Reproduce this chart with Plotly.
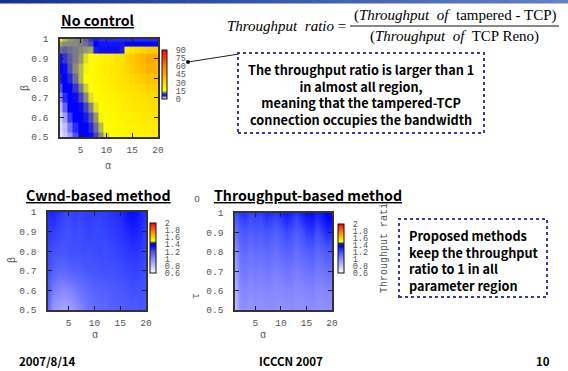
import plotly.graph_objects as go

W, H = 568, 371
def px(x): return x / W
def py(y): return 1 - y / H

# ---------------- data ----------------
alpha = list(range(1, 21))
xticks = [5, 10, 15, 20]
yticks = [0.5, 0.6, 0.7, 0.8, 0.9, 1.0]
ytick_text = ["0.5", "0.6", "0.7", "0.8", "0.9", "1"]

beta_nc = [0.5, 0.55, 0.6, 0.65, 0.7, 0.75, 0.8, 0.85, 0.9, 0.95, 0.975, 1.0]
ratio_nc = [
    [0.5, 1.5, 3, 5, 7, 7, 7.5, 9.5, 12, 14.5, 16, 17, 18, 19, 19, 20, 20, 21, 21, 22],
    [0.8, 2, 4, 6, 7, 7, 8.5, 11, 13.5, 15.5, 17, 18, 19, 20, 21, 21, 22, 23, 23, 24],
    [1.2, 3, 5.5, 7, 7, 8, 10, 12.5, 15, 16.5, 18, 19, 20, 21, 22, 23, 24, 25, 25, 26],
    [2, 4.5, 7, 7, 7.5, 9.5, 12, 14.5, 16.5, 18, 19, 20, 22, 23, 24, 25, 26, 27, 28, 28],
    [3.5, 6, 7, 7.5, 9.5, 12, 14.5, 16.5, 18, 19, 21, 22, 23, 25, 26, 27, 28, 29, 30, 30],
    [5, 7, 7, 9, 11.5, 14, 16, 18, 19, 21, 22, 24, 25, 27, 28, 30, 31, 32, 33, 33],
    [6.5, 7, 8.5, 11, 13.5, 15.5, 17, 19, 20, 22, 24, 26, 27, 29, 31, 33, 35, 36, 37, 36],
    [7, 7.5, 10, 12, 13.5, 15, 17, 19, 21, 23, 25, 27, 29, 31, 34, 37, 39, 41, 42, 40],
    [7.5, 9, 10.5, 11.5, 12.5, 14.5, 16.5, 18, 20, 22, 24, 27, 29, 32, 35, 38, 41, 43, 44, 42],
    [11, 10.5, 11, 11.5, 12, 12.5, 13, 8, 7.5, 7.5, 7.5, 7.5, 8, 24, 27, 30, 32, 34, 35, 33],
    [13, 12, 12, 12, 11.5, 11, 10, 7, 6.5, 6.5, 6.5, 6.5, 6.5, 7, 7, 7, 7, 7, 7, 7],
    [15, 13.5, 12.5, 12, 11.5, 10.5, 9, 6.5, 6, 6, 6, 6, 6, 6, 6, 6, 6, 6, 6, 6],
]

beta_pm = [0.5, 0.6, 0.7, 0.8, 0.9, 1.0]
ratio_cwnd = [
    [1.1, 0.95, 0.92, 0.9, 0.92, 0.95, 1.0, 1.05, 1.08, 1.1, 1.12, 1.12, 1.14, 1.15, 1.15, 1.16, 1.17, 1.16, 1.18, 1.17],
    [1.15, 1.05, 1.02, 1.0, 1.02, 1.05, 1.08, 1.1, 1.12, 1.14, 1.15, 1.15, 1.16, 1.17, 1.18, 1.18, 1.2, 1.2, 1.2, 1.18],
    [1.2, 1.15, 1.12, 1.12, 1.14, 1.15, 1.15, 1.17, 1.18, 1.18, 1.19, 1.2, 1.2, 1.2, 1.21, 1.22, 1.23, 1.23, 1.22, 1.2],
    [1.22, 1.2, 1.19, 1.18, 1.2, 1.2, 1.2, 1.21, 1.2, 1.21, 1.22, 1.21, 1.22, 1.23, 1.24, 1.25, 1.26, 1.26, 1.25, 1.22],
    [1.25, 1.24, 1.22, 1.21, 1.2, 1.22, 1.21, 1.22, 1.23, 1.22, 1.22, 1.23, 1.24, 1.25, 1.26, 1.28, 1.3, 1.3, 1.28, 1.24],
    [1.28, 1.3, 1.26, 1.23, 1.22, 1.24, 1.23, 1.24, 1.25, 1.24, 1.24, 1.25, 1.26, 1.27, 1.28, 1.32, 1.35, 1.34, 1.3, 1.25],
]
ratio_tput = [
    [0.8, 0.97, 0.98, 0.96, 0.98, 0.97, 0.98, 0.99, 0.98, 0.97, 0.98, 0.99, 0.98, 0.97, 0.98, 0.99, 0.98, 0.97, 0.98, 0.98],
    [0.85, 1.0, 1.02, 0.99, 1.01, 1.0, 1.02, 1.01, 1.0, 1.01, 1.02, 1.02, 1.0, 1.01, 1.02, 1.03, 1.0, 1.01, 1.02, 1.01],
    [0.9, 1.05, 1.07, 1.04, 1.06, 1.05, 1.07, 1.06, 1.04, 1.06, 1.08, 1.07, 1.05, 1.06, 1.08, 1.09, 1.06, 1.07, 1.09, 1.08],
    [0.97, 1.1, 1.12, 1.09, 1.11, 1.1, 1.12, 1.11, 1.09, 1.12, 1.14, 1.13, 1.1, 1.12, 1.15, 1.16, 1.12, 1.14, 1.17, 1.16],
    [1.08, 1.16, 1.18, 1.15, 1.17, 1.16, 1.19, 1.17, 1.15, 1.18, 1.22, 1.2, 1.16, 1.19, 1.24, 1.26, 1.2, 1.24, 1.29, 1.28],
    [1.2, 1.25, 1.27, 1.23, 1.25, 1.24, 1.29, 1.27, 1.25, 1.29, 1.32, 1.3, 1.25, 1.3, 1.34, 1.35, 1.3, 1.34, 1.38, 1.4],
]

cb_nc_ticks = [0, 15, 30, 45, 60, 75, 90]
cb_pm_ticks = [0.6, 0.8, 1.0, 1.2, 1.4, 1.6, 1.8, 2.0]
cb_pm_text = ["0.6", "0.8", "1", "1.2", "1.4", "1.6", "1.8", "2"]

# ---------------- styles ----------------
scale_nc = [[0, "#f4f4ff"], [0.03, "#a8a8ff"], [0.078, "#0000ff"], [0.115, "#5a5aa8"],
            [0.145, "#a8a860"], [0.17, "#ffff00"],
            [0.33, "#ffdd00"], [0.5, "#ffa500"], [0.67, "#ff8000"], [0.83, "#ff4000"], [1, "#ff0000"]]
scale_pm = [[0, "#ffffff"], [0.14, "#c4c4ff"], [0.29, "#8888ff"], [0.43, "#4050ff"],
            [0.55, "#0000ff"], [0.6, "#202080"], [0.64, "#ffff00"], [0.8, "#ff9900"], [1, "#ff0000"]]

MONO = "Liberation Mono"
GOTH = "Noto Sans CJK JP"
tick_font = dict(family=MONO, size=9.5, color="#555")
cb_font = dict(family=MONO, size=8.5, color="#555")

def colorbar(x0, y0, x1, y1, tv, tt):
    return dict(x=px(x0), xanchor="left", y=py(y0), yanchor="top",
                len=y1 - y0, lenmode="pixels", thickness=x1 - x0, thicknessmode="pixels",
                xpad=0, ypad=0, outlinewidth=1, outlinecolor="#111",
                tickvals=tv, ticktext=tt, ticks="outside", ticklen=7,
                tickcolor="rgba(0,0,0,0)", tickfont=cb_font)

fig = go.Figure()
fig.add_trace(go.Heatmap(x=alpha, y=beta_nc, z=ratio_nc, zmin=0, zmax=90, colorscale=scale_nc,
                         zsmooth=False, xaxis="x", yaxis="y",
                         colorbar=colorbar(162, 50, 167, 99, cb_nc_ticks, [str(v) for v in cb_nc_ticks])))
fig.add_trace(go.Heatmap(x=alpha, y=beta_pm, z=ratio_cwnd, zmin=0.6, zmax=2.0, colorscale=scale_pm,
                         zsmooth="best", xaxis="x2", yaxis="y2",
                         colorbar=colorbar(150, 223, 156, 273, cb_pm_ticks, cb_pm_text)))
fig.add_trace(go.Heatmap(x=alpha, y=beta_pm, z=ratio_tput, zmin=0.6, zmax=2.0, colorscale=scale_pm,
                         zsmooth="best", xaxis="x3", yaxis="y3",
                         colorbar=colorbar(338, 224, 344, 273, cb_pm_ticks, cb_pm_text)))

def xax(x0, x1, anchor):
    return dict(domain=[px(x0), px(x1)], range=[1, 20], tickvals=xticks, ticks="inside", ticklen=4,
                tickwidth=1, tickcolor="#222", showline=True, linecolor="#333", linewidth=1.5,
                mirror="ticks", showgrid=False, zeroline=False, tickfont=tick_font,
                ticklabelstandoff=3, anchor=anchor, automargin=False)

def yax(y0, y1, anchor):
    return dict(domain=[py(y1), py(y0)], range=[0.5, 1.0], tickvals=yticks, ticktext=ytick_text,
                ticks="inside", ticklen=4, tickwidth=1, tickcolor="#222", showline=True,
                linecolor="#333", linewidth=1.5, mirror="ticks", showgrid=False, zeroline=False,
                tickfont=tick_font, ticklabelstandoff=8, anchor=anchor, automargin=False)

fig.update_layout(
    width=W, height=H, margin=dict(l=0, r=0, t=0, b=0, pad=0, autoexpand=False),
    paper_bgcolor="white", plot_bgcolor="white", showlegend=False,
    xaxis=xax(60, 158, "y"), yaxis=yax(39, 137, "x"),
    xaxis2=xax(48, 146, "y2"), yaxis2=yax(212, 310, "x2"),
    xaxis3=xax(235, 332, "y3"), yaxis3=yax(213, 310, "x3"),
)

shapes = []
# top gradient band
n = 40
c0, c1 = (20, 50, 150), (100, 130, 200)
for i in range(n):
    t = i / (n - 1)
    col = "rgb(%d,%d,%d)" % tuple(int(a + (b - a) * t) for a, b in zip(c0, c1))
    shapes.append(dict(type="rect", xref="paper", yref="paper", x0=px(W * i / n), x1=px(W * (i + 1) / n + 0.5),
                       y0=py(3.5), y1=py(0), line=dict(width=0), fillcolor=col, layer="above"))
box_line = dict(color="#3a3aaa", width=2, dash="dot")
shapes.append(dict(type="rect", xref="paper", yref="paper", x0=px(238), x1=px(484), y0=py(133), y1=py(53), line=box_line))
shapes.append(dict(type="rect", xref="paper", yref="paper", x0=px(399), x1=px(547), y0=py(297), y1=py(219), line=box_line))
shapes.append(dict(type="line", xref="paper", yref="paper", x0=px(188), y0=py(62), x1=px(239), y1=py(54), line=dict(color="#222", width=1)))
shapes.append(dict(type="circle", xref="paper", yref="paper", x0=px(186), x1=px(190), y0=py(64), y1=py(60), fillcolor="#111", line=dict(width=0)))
shapes.append(dict(type="line", xref="paper", yref="paper", x0=px(350), y0=py(26), x1=px(559), y1=py(26), line=dict(color="#111", width=1)))
fig.update_layout(shapes=shapes)

ann = []
def text(x, y, s, font, xanchor="center", yanchor="middle", align="center", angle=0):
    ann.append(dict(x=px(x), y=py(y), xref="paper", yref="paper", text=s, showarrow=False,
                    xanchor=xanchor, yanchor=yanchor, align=align, font=font, textangle=angle))

title_font = dict(family=GOTH, size=14.2, color="#000", weight="bold", lineposition="under")
text(98, 20, "No control", title_font)
text(98, 195, "Cwnd-based method", title_font)
text(308, 195, "Throughput-based method", title_font)

serif = dict(family="Liberation Serif", size=15, color="#000")
text(348, 26, "<i>Throughput  ratio</i> =", serif, xanchor="right")
text(455, 16, "(<i>Throughput  of</i>  tampered - TCP)", serif)
text(454, 37, "(<i>Throughput  of</i>  TCP Reno)", serif)

box_font = dict(family=GOTH, size=12.7, color="#000", weight="bold")
text(361, 94.5, "The throughput ratio is larger than 1<br>in almost all region,<br>meaning that the tampered-TCP<br>connection occupies the bandwidth", box_font)
text(407, 260, "Proposed methods<br>keep the throughput<br>ratio to 1 in all<br>parameter region", box_font, xanchor="left", align="left")

lab_font = dict(family=MONO, size=10, color="#555")
text(108, 166, "α", lab_font)
text(25, 88, "β", lab_font, angle=-90)
text(95, 335, "α", lab_font)
text(12, 260, "β", lab_font, angle=-90)
text(263, 335, "α", lab_font)
text(196, 296, "τ", lab_font, angle=-90)
text(197, 200, "o", lab_font)
text(384, 248, "Throughput rati", lab_font, angle=-90)

foot = dict(family=GOTH, size=11.5, color="#000", weight="bold")
text(17, 361, "2007/8/14", foot, xanchor="left")
text(291, 361, "ICCCN 2007", foot)
text(552, 361, "10", foot, xanchor="right")

fig.update_layout(annotations=ann)
fig.write_html("out.html", config={"displayModeBar": False},
               post_script="document.body.style.margin='0px';document.body.style.padding='0px';"
                           "document.body.style.overflow='hidden';")
